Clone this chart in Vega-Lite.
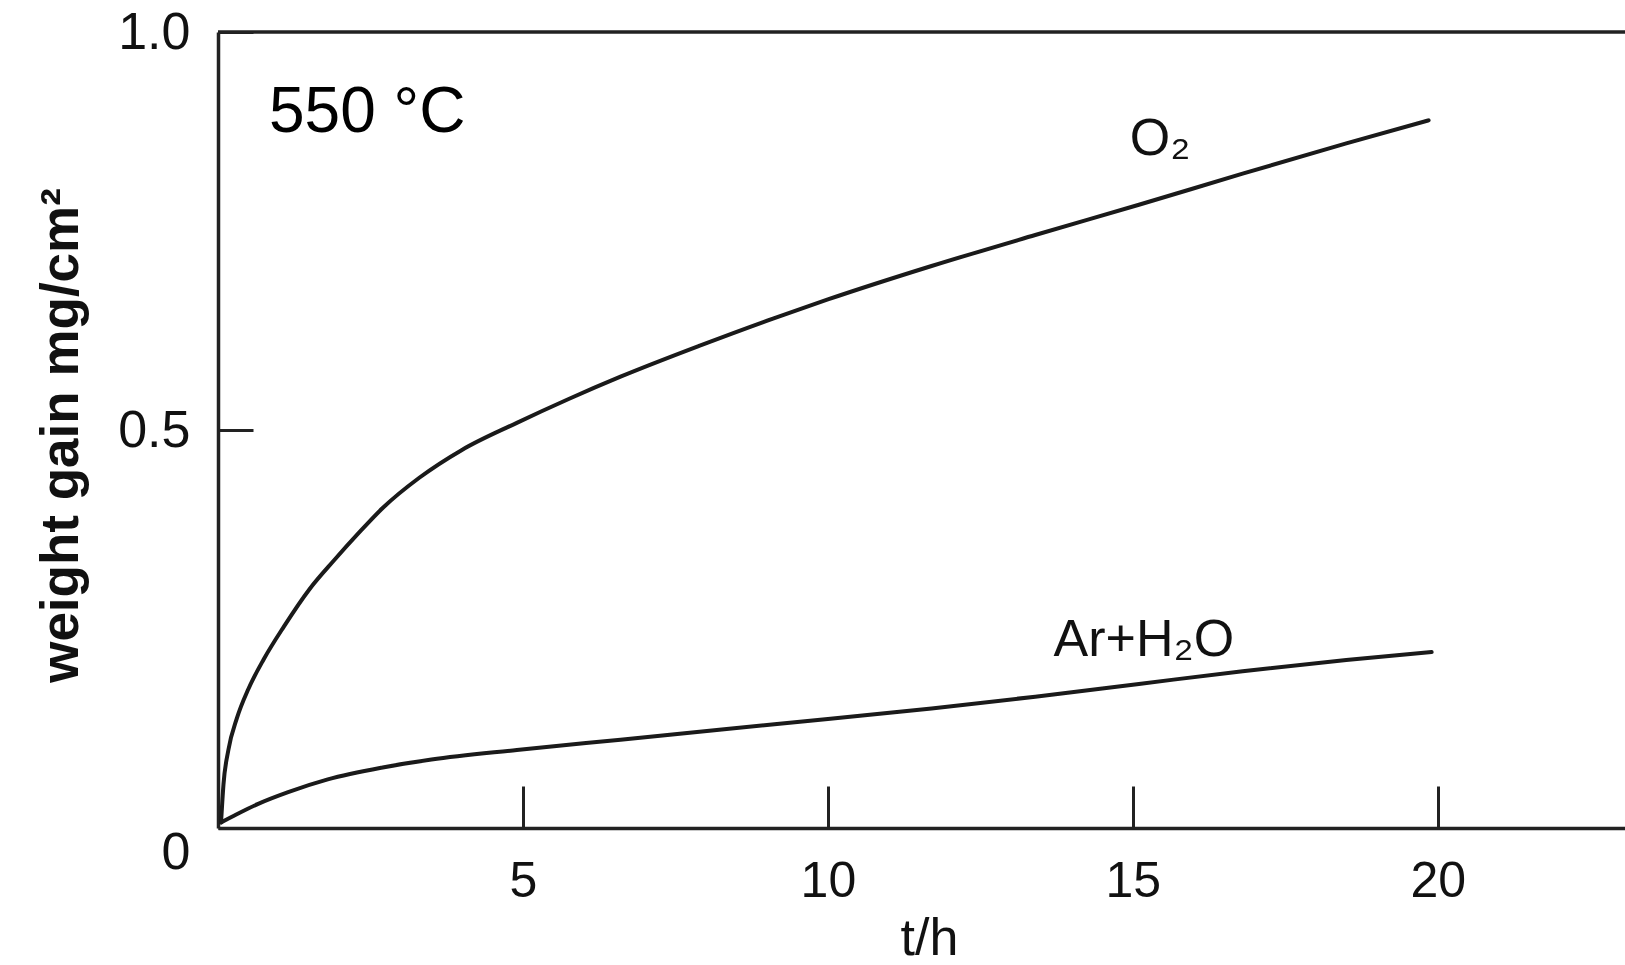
{
  "$schema": "https://vega.github.io/schema/vega-lite/v6.json",
  "width": 1407,
  "height": 796,
  "autosize": {"type": "none"},
  "padding": {"left": 218, "top": 32, "right": 0, "bottom": 137},
  "background": "white",
  "config": {"view": {"stroke": null}, "font": "Liberation Sans"},
  "layer": [
    {
      "data": {
        "values": [
          {"series": "O2", "t": 0.05, "w": 0.007},
          {"series": "O2", "t": 0.09, "w": 0.055},
          {"series": "O2", "t": 0.17, "w": 0.098},
          {"series": "O2", "t": 0.31, "w": 0.138},
          {"series": "O2", "t": 0.5, "w": 0.175},
          {"series": "O2", "t": 0.75, "w": 0.212},
          {"series": "O2", "t": 1.08, "w": 0.253},
          {"series": "O2", "t": 1.5, "w": 0.3},
          {"series": "O2", "t": 1.9, "w": 0.336},
          {"series": "O2", "t": 2.3, "w": 0.37},
          {"series": "O2", "t": 2.7, "w": 0.402},
          {"series": "O2", "t": 3.3, "w": 0.44},
          {"series": "O2", "t": 4.0, "w": 0.475},
          {"series": "O2", "t": 4.9, "w": 0.509},
          {"series": "O2", "t": 5.75, "w": 0.539},
          {"series": "O2", "t": 6.6, "w": 0.567},
          {"series": "O2", "t": 7.9, "w": 0.606},
          {"series": "O2", "t": 9.1, "w": 0.640},
          {"series": "O2", "t": 10.0, "w": 0.664},
          {"series": "O2", "t": 11.7, "w": 0.706},
          {"series": "O2", "t": 13.4, "w": 0.745},
          {"series": "O2", "t": 15.1, "w": 0.783},
          {"series": "O2", "t": 16.8, "w": 0.822},
          {"series": "O2", "t": 18.5, "w": 0.860},
          {"series": "O2", "t": 19.85, "w": 0.889},
          {"series": "ArH2O", "t": 0.05, "w": 0.007},
          {"series": "ArH2O", "t": 0.3, "w": 0.017},
          {"series": "ArH2O", "t": 0.65, "w": 0.03},
          {"series": "ArH2O", "t": 1.15, "w": 0.045},
          {"series": "ArH2O", "t": 1.8, "w": 0.061},
          {"series": "ArH2O", "t": 2.7, "w": 0.076},
          {"series": "ArH2O", "t": 3.5, "w": 0.086},
          {"series": "ArH2O", "t": 4.9, "w": 0.098},
          {"series": "ArH2O", "t": 6.6, "w": 0.111},
          {"series": "ArH2O", "t": 8.3, "w": 0.124},
          {"series": "ArH2O", "t": 10.0, "w": 0.137},
          {"series": "ArH2O", "t": 11.7, "w": 0.15},
          {"series": "ArH2O", "t": 13.4, "w": 0.165},
          {"series": "ArH2O", "t": 15.1, "w": 0.181},
          {"series": "ArH2O", "t": 16.8, "w": 0.197},
          {"series": "ArH2O", "t": 18.5, "w": 0.211},
          {"series": "ArH2O", "t": 19.9, "w": 0.221}
        ]
      },
      "mark": {"type": "line", "interpolate": "monotone", "stroke": "#1a1a1a", "strokeWidth": 4, "strokeCap": "round"},
      "encoding": {
        "x": {
          "field": "t",
          "type": "quantitative",
          "scale": {"domain": [0, 23.07], "nice": false, "zero": false},
          "axis": {
            "values": [5, 10, 15, 20],
            "format": "d",
            "grid": false,
            "tickSize": -42,
            "tickWidth": 3,
            "tickColor": "#222",
            "domainColor": "#222",
            "domainWidth": 3.5,
            "labelFontSize": 50,
            "labelColor": "#111",
            "labelPadding": 70,
            "labelBaseline": "top",
            "labelFlush": false,
            "labelOverlap": false,
            "title": "t/h",
            "titleFontSize": 52,
            "titleFontWeight": "normal",
            "titleColor": "#111",
            "titleX": 711,
            "titleY": 126,
            "titleAlign": "center",
            "titleBaseline": "alphabetic"
          }
        },
        "y": {
          "field": "w",
          "type": "quantitative",
          "scale": {"domain": [0, 1], "nice": false},
          "axis": {
            "values": [0, 0.5, 1],
            "grid": false,
            "tickSize": -35,
            "tickWidth": 3,
            "tickColor": "#222",
            "domainColor": "#222",
            "domainWidth": 3.5,
            "labelFontSize": 52,
            "labelColor": "#111",
            "labelPadding": 63,
            "labelAlign": "right",
            "labelBaseline": "middle",
            "labelFlush": false,
            "labelOverlap": false,
            "labelOffset": {"condition": {"test": "datum.value == 0", "value": 24}, "value": 0},
            "labelExpr": "datum.value == 0 ? '0' : format(datum.value, '.1f')",
            "title": "weight gain mg/cm²",
            "titleFontSize": 53,
            "titleFontWeight": "bold",
            "titleColor": "#111",
            "titleAngle": 270,
            "titleX": -141,
            "titleY": 403,
            "titleAlign": "center",
            "titleBaseline": "alphabetic"
          }
        },
        "detail": {"field": "series"}
      }
    },
    {
      "data": {"values": [{"w": 1}]},
      "mark": {"type": "rule", "stroke": "#222", "strokeWidth": 3.5},
      "encoding": {"y": {"field": "w", "type": "quantitative"}}
    },
    {
      "data": {"values": [{"t": 0.836, "w": 0.875, "label": "550 °C"}]},
      "mark": {"type": "text", "align": "left", "baseline": "alphabetic", "fontSize": 64, "color": "#000"},
      "encoding": {
        "x": {"field": "t", "type": "quantitative"},
        "y": {"field": "w", "type": "quantitative"},
        "text": {"field": "label"}
      }
    },
    {
      "data": {
        "values": [
          {"t": 14.95, "w": 0.845, "label": "O₂"},
          {"t": 13.7, "w": 0.2166, "label": "Ar+H₂O"}
        ]
      },
      "mark": {"type": "text", "align": "left", "baseline": "alphabetic", "fontSize": 52, "color": "#111"},
      "encoding": {
        "x": {"field": "t", "type": "quantitative"},
        "y": {"field": "w", "type": "quantitative"},
        "text": {"field": "label"}
      }
    }
  ]
}
